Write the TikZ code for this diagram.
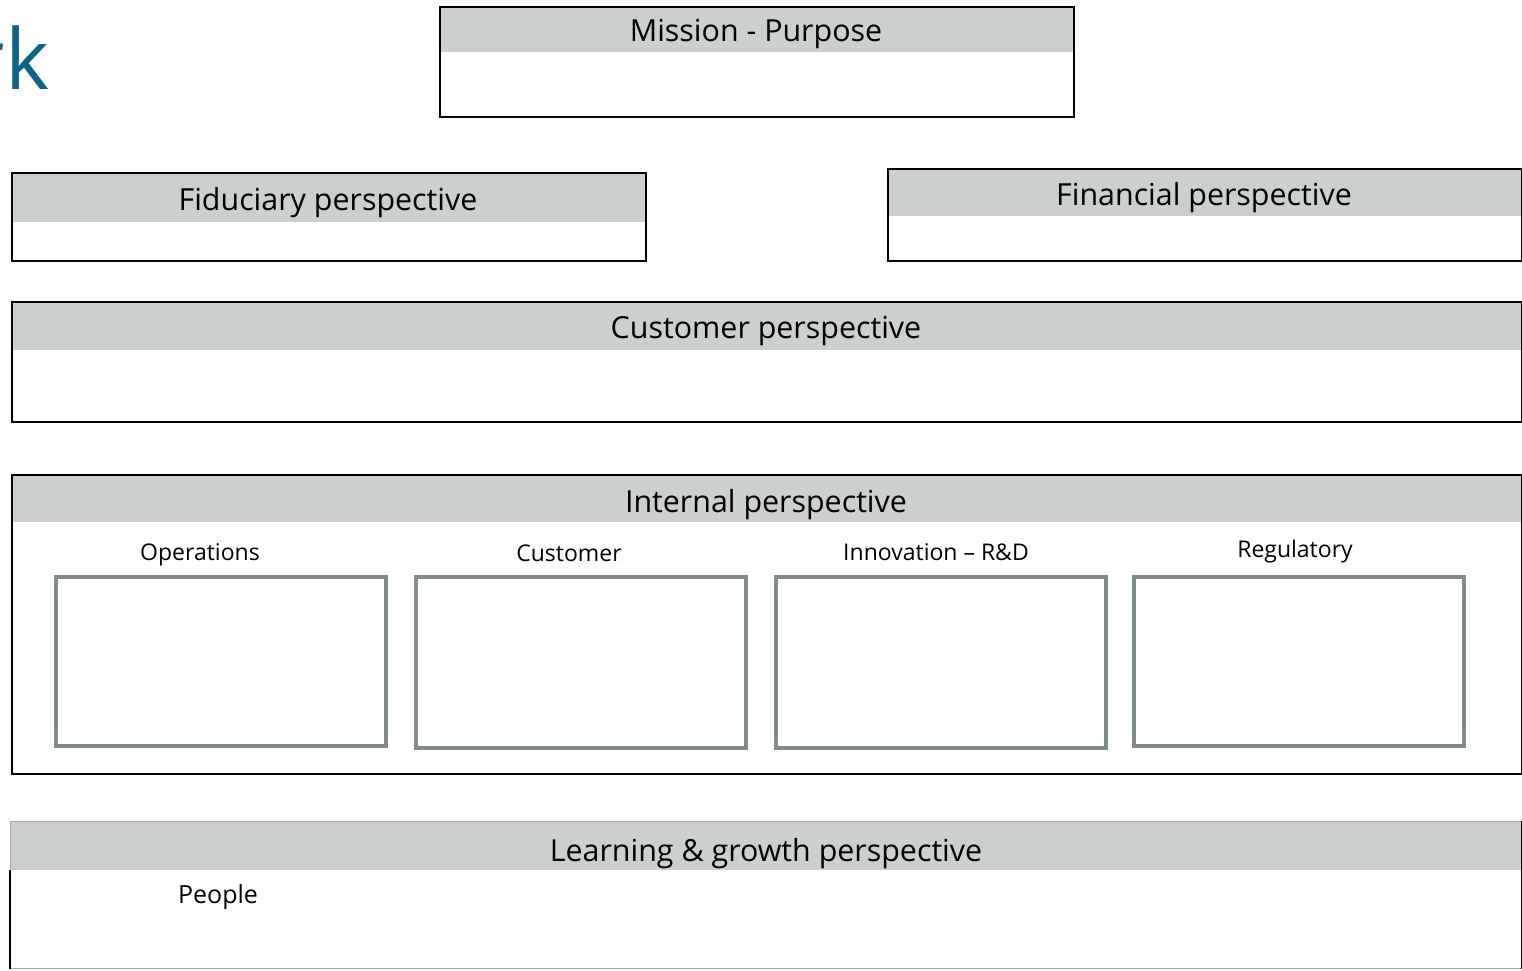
\documentclass[tikz,border=0pt]{standalone}
\usepackage{fontspec}
\setmainfont{Open Sans}
\definecolor{hdr}{RGB}{203,207,206}
\definecolor{innerc}{RGB}{127,140,138}
\definecolor{tealc}{RGB}{12,100,135}
\begin{document}
\begin{tikzpicture}[x=1pt,y=-1pt,
  frame/.style={draw=black,line width=2pt,inner sep=0pt,anchor=north west},
  title/.style={font=\fontsize{30.4}{34}\selectfont,inner sep=0pt,anchor=base},
  sublabel/.style={font=\fontsize{23}{27}\selectfont,inner sep=0pt,anchor=base},
  bigtxt/.style={font=\fontsize{84}{96}\selectfont,text=tealc,inner sep=0pt},
  subbox/.style={draw=innerc,line width=4pt,inner sep=0pt,anchor=north west,minimum width=330pt,minimum height=170pt}]
\useasboundingbox (0,0) rectangle (1522,970);
\clip (0,0) rectangle (1522,970);
% big partial title
\node[bigtxt,anchor=base west] (kk) at (5,89) {k};
\node[bigtxt,anchor=base east] (rr) at (kk.base west) {r};
% Mission
\fill[hdr] (439,6) rectangle (1073,52);
\node[frame,minimum width=634pt,minimum height=110pt] (mission) at (439,6) {};
\node[title] (missiont) at (756,41) {Mission - Purpose};
% Fiduciary
\fill[hdr] (11,172) rectangle (645,222);
\node[frame,minimum width=634pt,minimum height=88pt] (fid) at (11,172) {};
\node[title] (fidt) at (328,210) {Fiduciary perspective};
% Financial
\fill[hdr] (887,168) rectangle (1521,216);
\node[frame,minimum width=634pt,minimum height=92pt] (fin) at (887,168) {};
\node[title] (fint) at (1204,205) {Financial perspective};
% Customer
\fill[hdr] (11,301) rectangle (1521,350);
\node[frame,minimum width=1510pt,minimum height=120pt] (cust) at (11,301) {};
\node[title] (custt) at (766,338) {Customer perspective};
% Internal
\fill[hdr] (11,474) rectangle (1521,522);
\node[frame,minimum width=1510pt,minimum height=299pt] (int) at (11,474) {};
\node[title] (intt) at (766,512) {Internal perspective};
\node[sublabel] (opl) at (200,560) {Operations};
\node[sublabel] (cul) at (569,561) {Customer};
\node[sublabel] (inl) at (936,560) {Innovation – R\&D};
\node[sublabel] (rel) at (1295,557) {Regulatory};
\node[subbox,minimum height=169pt] (opb) at (54,575) {};
\node[subbox,minimum height=171pt] (cub) at (414,575) {};
\node[subbox,minimum height=171pt] (inb) at (774,575) {};
\node[subbox,minimum height=169pt] (reb) at (1132,575) {};
% Learning & growth
\fill[hdr] (10,821) rectangle (1521,870);
\node[draw=black!35,line width=0.8pt,inner sep=0pt,anchor=north west,minimum width=1511pt,minimum height=147pt] (learn) at (10,821) {};
\draw[line width=2pt] ([yshift=-49pt]learn.north west) -- (learn.south west);
\draw[line width=2pt] (learn.north east) -- (learn.south east);
\node[title] (learnt) at (766,861) {Learning \& growth perspective};
\node[font=\fontsize{25}{29}\selectfont,inner sep=0pt,anchor=base] (peop) at (218,903) {People};
\end{tikzpicture}
\end{document}
